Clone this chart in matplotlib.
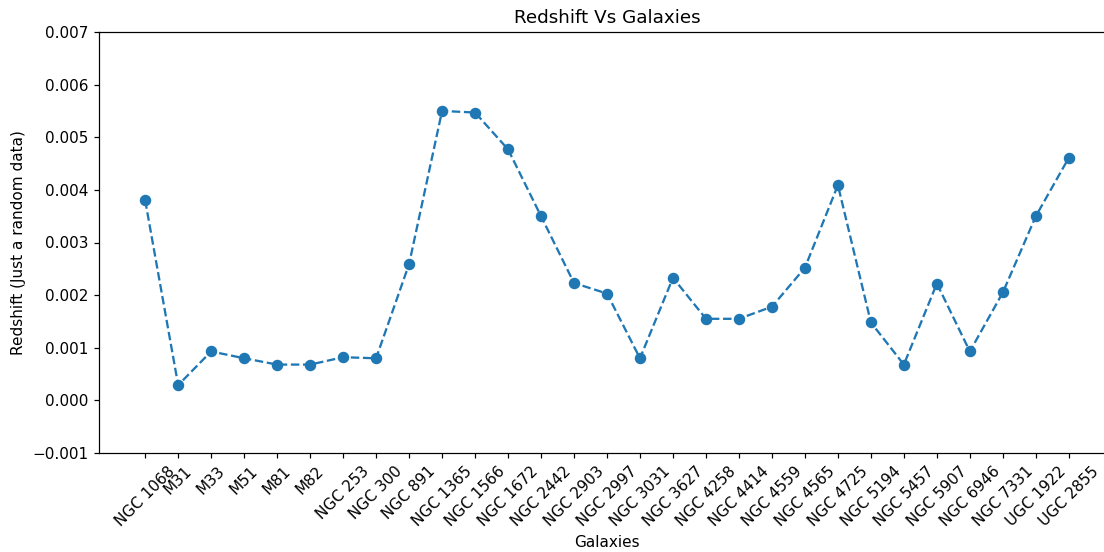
import matplotlib
matplotlib.use("Agg")
import matplotlib.pyplot as plt

galaxies = [
    "NGC 1068", "M31", "M33", "M51", "M81", "M82", "NGC 253", "NGC 300",
    "NGC 891", "NGC 1365", "NGC 1566", "NGC 1672", "NGC 2442", "NGC 2903",
    "NGC 2997", "NGC 3031", "NGC 3627", "NGC 4258", "NGC 4414", "NGC 4559",
    "NGC 4565", "NGC 4725", "NGC 5194", "NGC 5457", "NGC 5907", "NGC 6946",
    "NGC 7331", "UGC 1922", "UGC 2855",
]
redshift = [
    0.00380, 0.00029, 0.00093, 0.00080, 0.00068, 0.00068, 0.00082, 0.00080,
    0.00259, 0.00550, 0.00547, 0.00477, 0.00350, 0.00223, 0.00203, 0.00080,
    0.00233, 0.00155, 0.00155, 0.00178, 0.00252, 0.00409, 0.00148, 0.00068,
    0.00222, 0.00093, 0.00205, 0.00350, 0.00461,
]

DPI = 110
W, H = 1104, 552
fig = plt.figure(figsize=(W / DPI, H / DPI), dpi=DPI)
ax = fig.add_axes([99 / W, (H - 453) / H, (1115 - 99) / W, 421 / H])

ax.plot(galaxies, redshift, linestyle="--", marker="o", markersize=6.5)
ax.set_ylim(-0.001, 0.007)
ax.set_title("Redshift Vs Galaxies")
ax.set_xlabel("Galaxies")
ax.set_ylabel("Redshift (Just a random data)")
plt.setp(ax.get_xticklabels(), rotation=45)

fig.savefig("out.png", dpi=DPI)
